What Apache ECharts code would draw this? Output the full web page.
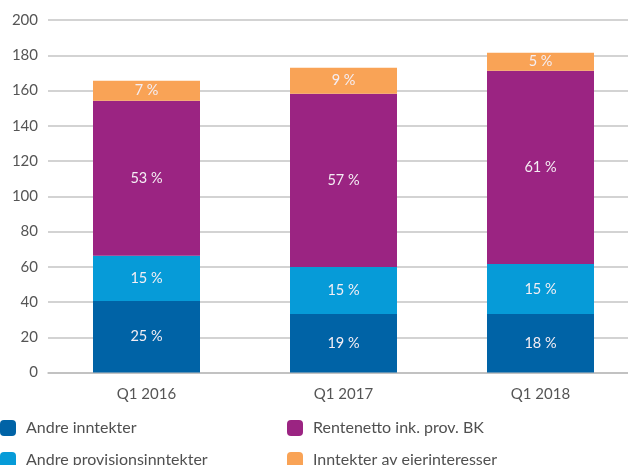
<!DOCTYPE html>
<html><head><meta charset="utf-8">
<script src="https://cdn.jsdelivr.net/npm/echarts@6/dist/echarts.min.js"></script>
<style>html,body{margin:0;padding:0;background:#fff;overflow:hidden;width:628px;height:465px}#c{width:640px;height:465px}</style>
</head><body><div id="c"></div>
<script>
const categories = ['Q1 2016', 'Q1 2017', 'Q1 2018'];
const andreInntekter = [40.6, 33.2, 33.2];
const andreProvisjon = [25.6, 26.7, 28.4];
const rentenetto = [88.0, 98.2, 109.6];
const eierinteresser = [11.3, 14.8, 10.2];
const pctAndreInntekter = ['25 %', '19 %', '18 %'];
const pctAndreProvisjon = ['15 %', '15 %', '15 %'];
const pctRentenetto = ['53 %', '57 %', '61 %'];
const pctEierinteresser = ['7 %', '9 %', '5 %'];
const yTicks = [0, 20, 40, 60, 80, 100, 120, 140, 160, 180, 200];

const FONT = 'Lato';
function mk(name, vals, pcts, color) {
  return {
    name, type: 'bar', stack: 'a', barWidth: 107,
    data: vals.map((v, i) => ({ value: v, pct: pcts[i] })),
    itemStyle: { color },
    label: { show: true, position: 'inside', color: '#f4eef4', fontFamily: FONT, fontSize: 14.5,
      formatter: p => p.data.pct },
    emphasis: { disabled: true }
  };
}
function leg(name, left, top) {
  return { left, top, itemWidth: 16, itemHeight: 16, icon: 'roundRect', data: [name], selectedMode: false,
    textStyle: { color: '#505050', fontSize: 16, fontFamily: FONT, padding: [0, 0, 0, 5] } };
}
const chart = echarts.init(document.getElementById('c'), null, { renderer: 'canvas' });
chart.setOption({
  animation: false,
  textStyle: { fontFamily: FONT },
  grid: { left: 48, top: 20, right: 1, bottom: 92.5, containLabel: false },
  xAxis: {
    type: 'category', data: categories,
    axisLine: { show: true, lineStyle: { color: '#bdbdbd', width: 1.5 } },
    axisTick: { show: false },
    axisLabel: { color: '#555', fontSize: 15, fontFamily: FONT, margin: 14 }
  },
  yAxis: {
    type: 'value', min: yTicks[0], max: yTicks[yTicks.length - 1], interval: 20,
    axisLine: { show: false }, axisTick: { show: false },
    splitLine: { lineStyle: { color: '#c4c4c4', width: 1.5 } },
    axisLabel: { color: '#555', fontSize: 15, fontFamily: FONT, margin: 10 }
  },
  legend: [
    leg('Andre inntekter', -5, 415),
    leg('Andre provisjonsinntekter', -5, 447),
    leg('Rentenetto ink. prov. BK', 282, 415),
    leg('Inntekter av eierinteresser', 282, 447)
  ],
  series: [
    mk('Andre inntekter', andreInntekter, pctAndreInntekter, '#0063a6'),
    mk('Andre provisjonsinntekter', andreProvisjon, pctAndreProvisjon, '#069bd8'),
    mk('Rentenetto ink. prov. BK', rentenetto, pctRentenetto, '#9b2482'),
    mk('Inntekter av eierinteresser', eierinteresser, pctEierinteresser, '#f9a356')
  ]
});
</script></body></html>
